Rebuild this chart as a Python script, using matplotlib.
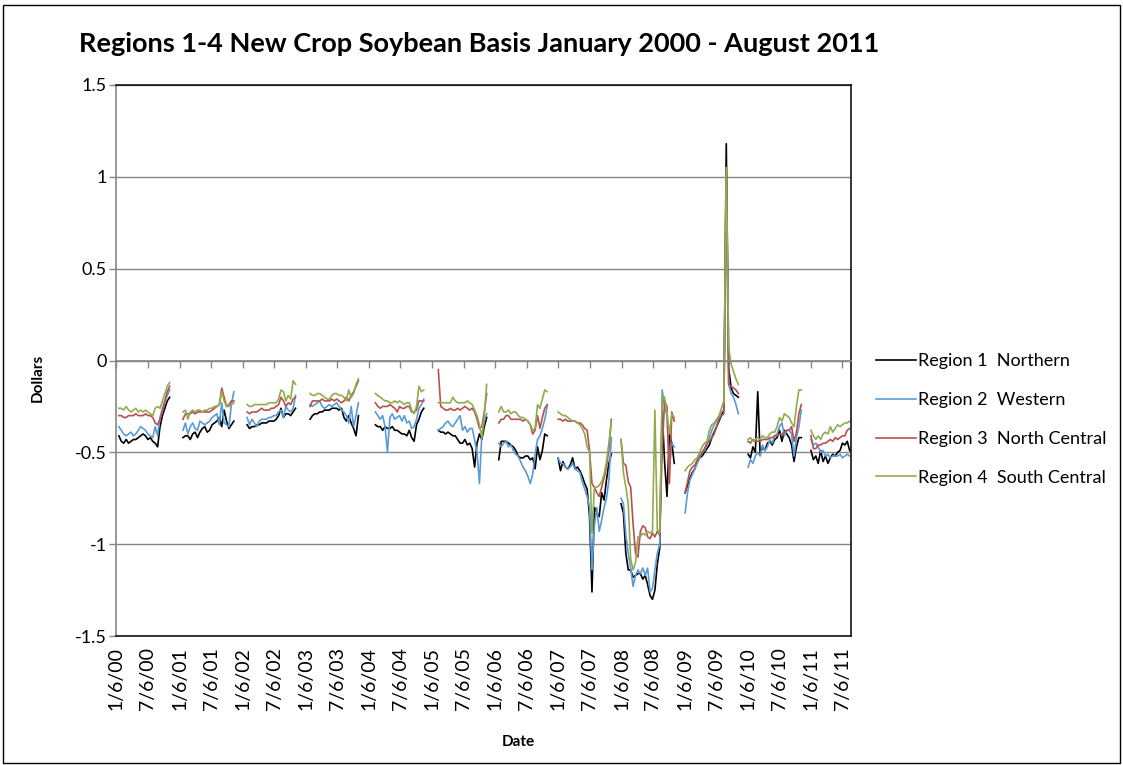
import matplotlib
matplotlib.use('Agg')
import matplotlib.pyplot as plt
from matplotlib.patches import Rectangle
from matplotlib.lines import Line2D
import matplotlib.dates as mdates
import numpy as np
import pandas as pd
from datetime import datetime

plt.rcParams['font.family'] = ['Lato', 'DejaVu Sans']

# first quote date of each new-crop season, quotes every two weeks
seg_starts = ['2000-01-20', '2001-01-25', '2002-01-31', '2003-01-30', '2004-02-12', '2005-02-10',
              '2006-01-26', '2007-01-04', '2008-01-03', '2009-01-08', '2010-01-07', '2011-01-06']

# basis in dollars, one list per season
northern = [
    [-0.41, -0.44, -0.45, -0.43, -0.45, -0.44, -0.43, -0.43, -0.42, -0.41, -0.40, -0.41, -0.43, -0.42, -0.44, -0.45, -0.47, -0.36, -0.30, -0.26, -0.22, -0.20],
    [-0.42, -0.41, -0.41, -0.43, -0.40, -0.39, -0.42, -0.39, -0.37, -0.36, -0.39, -0.38, -0.35, -0.34, -0.33, -0.31, -0.36, -0.27, -0.33, -0.37, -0.35, -0.33],
    [-0.35, -0.37, -0.36, -0.36, -0.35, -0.35, -0.34, -0.34, -0.34, -0.33, -0.33, -0.33, -0.32, -0.30, -0.26, -0.31, -0.29, -0.29, -0.30, -0.28, -0.26],
    [-0.32, -0.30, -0.29, -0.29, -0.28, -0.28, -0.27, -0.27, -0.27, -0.26, -0.26, -0.26, -0.27, -0.26, -0.31, -0.33, -0.30, -0.34, -0.37, -0.41, -0.30],
    [-0.35, -0.36, -0.36, -0.38, -0.36, -0.37, -0.37, -0.36, -0.38, -0.38, -0.39, -0.40, -0.40, -0.41, -0.38, -0.42, -0.44, -0.35, -0.32, -0.28, -0.26],
    [-0.38, -0.39, -0.39, -0.40, -0.39, -0.40, -0.41, -0.41, -0.43, -0.45, -0.45, -0.43, -0.46, -0.45, -0.48, -0.58, -0.45, -0.40, -0.43, -0.36, -0.31],
    [-0.54, -0.44, -0.44, -0.44, -0.45, -0.46, -0.47, -0.49, -0.52, -0.53, -0.53, -0.52, -0.52, -0.54, -0.53, -0.59, -0.47, -0.54, -0.49, -0.40, -0.41],
    [-0.53, -0.60, -0.55, -0.58, -0.59, -0.57, -0.53, -0.59, -0.58, -0.60, -0.63, -0.67, -0.70, -0.85, -1.26, -0.80, -0.83, -0.85, -0.72, -0.76, -0.65, -0.56, -0.51],
    [-0.78, -0.83, -1.05, -1.14, -1.14, -1.18, -1.17, -1.16, -1.16, -1.19, -1.17, -1.22, -1.28, -1.30, -1.25, -1.11, -1.02, -0.27, -0.55, -0.74, -0.40, -0.45, -0.56],
    [-0.72, -0.68, -0.64, -0.61, -0.59, -0.55, -0.53, -0.52, -0.50, -0.48, -0.46, -0.42, -0.39, -0.36, -0.33, -0.30, -0.27, 1.18, -0.04, -0.15, -0.18, -0.19, -0.20],
    [-0.51, -0.53, -0.47, -0.50, -0.17, -0.51, -0.47, -0.49, -0.45, -0.44, -0.46, -0.43, -0.42, -0.38, -0.44, -0.38, -0.40, -0.42, -0.46, -0.55, -0.47, -0.42, -0.42],
    [-0.49, -0.54, -0.52, -0.56, -0.49, -0.55, -0.52, -0.56, -0.53, -0.51, -0.52, -0.50, -0.49, -0.45, -0.46, -0.44, -0.49],
]
western = [
    [-0.36, -0.38, -0.40, -0.41, -0.40, -0.39, -0.41, -0.40, -0.38, -0.36, -0.37, -0.38, -0.40, -0.41, -0.42, -0.36, -0.41, -0.31, -0.26, -0.22, -0.19, -0.16],
    [-0.38, -0.34, -0.40, -0.36, -0.34, -0.37, -0.38, -0.33, -0.34, -0.35, -0.34, -0.33, -0.31, -0.30, -0.29, -0.35, -0.23, -0.34, -0.35, -0.36, -0.24, -0.17],
    [-0.31, -0.35, -0.32, -0.34, -0.36, -0.33, -0.32, -0.32, -0.32, -0.31, -0.31, -0.30, -0.30, -0.28, -0.27, -0.31, -0.25, -0.27, -0.28, -0.26, -0.19],
    [-0.24, -0.25, -0.24, -0.23, -0.22, -0.25, -0.26, -0.25, -0.24, -0.25, -0.24, -0.23, -0.25, -0.27, -0.28, -0.30, -0.34, -0.25, -0.36, -0.30, -0.23],
    [-0.28, -0.30, -0.32, -0.30, -0.36, -0.50, -0.31, -0.29, -0.32, -0.31, -0.30, -0.33, -0.30, -0.34, -0.33, -0.37, -0.36, -0.32, -0.26, -0.24, -0.21],
    [-0.38, -0.37, -0.36, -0.34, -0.33, -0.35, -0.36, -0.34, -0.32, -0.30, -0.38, -0.36, -0.39, -0.37, -0.37, -0.43, -0.50, -0.67, -0.40, -0.33, -0.29],
    [-0.45, -0.47, -0.45, -0.44, -0.47, -0.46, -0.49, -0.51, -0.52, -0.55, -0.58, -0.60, -0.63, -0.67, -0.62, -0.51, -0.43, -0.41, -0.37, -0.32, -0.25],
    [-0.53, -0.56, -0.56, -0.58, -0.59, -0.58, -0.56, -0.59, -0.60, -0.61, -0.66, -0.70, -0.74, -0.80, -1.14, -0.90, -0.80, -0.93, -0.87, -0.80, -0.75, -0.65, -0.42],
    [-0.75, -0.78, -0.95, -1.05, -1.13, -1.23, -1.17, -1.14, -1.16, -1.13, -1.17, -1.13, -1.26, -1.24, -1.14, -1.05, -1.00, -0.16, -0.25, -0.30, -0.58, -0.45, -0.47],
    [-0.83, -0.72, -0.65, -0.62, -0.59, -0.56, -0.53, -0.50, -0.49, -0.46, -0.42, -0.38, -0.35, -0.33, -0.31, -0.28, -0.27, 1.00, -0.13, -0.18, -0.20, -0.24, -0.29],
    [-0.58, -0.54, -0.56, -0.52, -0.50, -0.52, -0.46, -0.49, -0.47, -0.43, -0.45, -0.41, -0.40, -0.36, -0.34, -0.41, -0.38, -0.38, -0.40, -0.52, -0.42, -0.36, -0.27],
    [-0.43, -0.46, -0.45, -0.47, -0.50, -0.49, -0.52, -0.51, -0.53, -0.52, -0.52, -0.52, -0.51, -0.53, -0.52, -0.51, -0.52],
]
north_central = [
    [-0.30, -0.30, -0.31, -0.31, -0.30, -0.30, -0.30, -0.29, -0.30, -0.30, -0.30, -0.29, -0.30, -0.30, -0.31, -0.34, -0.35, -0.32, -0.28, -0.22, -0.17, -0.14],
    [-0.32, -0.29, -0.29, -0.29, -0.28, -0.29, -0.28, -0.28, -0.28, -0.28, -0.28, -0.28, -0.27, -0.26, -0.25, -0.24, -0.15, -0.20, -0.25, -0.24, -0.22, -0.22],
    [-0.28, -0.29, -0.28, -0.28, -0.28, -0.27, -0.26, -0.27, -0.27, -0.27, -0.26, -0.26, -0.25, -0.24, -0.20, -0.22, -0.25, -0.23, -0.24, -0.21, -0.20],
    [-0.25, -0.22, -0.22, -0.22, -0.22, -0.21, -0.22, -0.22, -0.22, -0.21, -0.22, -0.21, -0.22, -0.23, -0.22, -0.20, -0.22, -0.19, -0.17, -0.14, -0.11],
    [-0.23, -0.25, -0.26, -0.25, -0.25, -0.25, -0.24, -0.25, -0.26, -0.28, -0.25, -0.26, -0.26, -0.25, -0.25, -0.28, -0.28, -0.27, -0.22, -0.22, -0.22],
    [-0.05, -0.25, -0.26, -0.27, -0.27, -0.26, -0.27, -0.27, -0.26, -0.27, -0.26, -0.25, -0.26, -0.27, -0.26, -0.28, -0.32, -0.37, -0.36, -0.28, -0.18],
    [-0.34, -0.32, -0.32, -0.30, -0.30, -0.32, -0.32, -0.32, -0.32, -0.32, -0.33, -0.32, -0.33, -0.35, -0.40, -0.38, -0.30, -0.37, -0.31, -0.26, -0.24],
    [-0.32, -0.32, -0.33, -0.32, -0.33, -0.33, -0.33, -0.33, -0.34, -0.34, -0.35, -0.37, -0.38, -0.49, -0.67, -0.69, -0.72, -0.74, -0.69, -0.64, -0.58, -0.48, -0.32],
    [-0.43, -0.56, -0.57, -0.66, -0.69, -0.89, -1.05, -1.07, -0.93, -0.90, -0.91, -0.96, -0.97, -0.94, -0.96, -0.93, -0.95, -0.50, -0.22, -0.25, -0.67, -0.28, -0.33],
    [-0.72, -0.66, -0.60, -0.58, -0.57, -0.54, -0.52, -0.50, -0.48, -0.45, -0.44, -0.42, -0.40, -0.36, -0.32, -0.30, -0.29, 1.05, -0.13, -0.14, -0.15, -0.16, -0.18],
    [-0.44, -0.45, -0.43, -0.44, -0.44, -0.44, -0.43, -0.43, -0.43, -0.42, -0.42, -0.41, -0.41, -0.40, -0.40, -0.39, -0.38, -0.38, -0.36, -0.44, -0.39, -0.29, -0.24],
    [-0.41, -0.48, -0.48, -0.46, -0.46, -0.45, -0.45, -0.44, -0.43, -0.44, -0.42, -0.43, -0.42, -0.41, -0.41, -0.38, -0.37],
]
south_central = [
    [-0.26, -0.26, -0.27, -0.25, -0.27, -0.28, -0.27, -0.26, -0.28, -0.27, -0.28, -0.27, -0.28, -0.29, -0.30, -0.26, -0.25, -0.26, -0.22, -0.18, -0.14, -0.12],
    [-0.28, -0.27, -0.32, -0.28, -0.27, -0.28, -0.27, -0.27, -0.28, -0.27, -0.27, -0.26, -0.26, -0.25, -0.25, -0.24, -0.17, -0.22, -0.25, -0.25, -0.24, -0.23],
    [-0.24, -0.25, -0.25, -0.24, -0.24, -0.24, -0.24, -0.24, -0.24, -0.23, -0.23, -0.23, -0.23, -0.21, -0.16, -0.17, -0.22, -0.19, -0.21, -0.11, -0.13],
    [-0.18, -0.19, -0.19, -0.18, -0.18, -0.19, -0.20, -0.21, -0.21, -0.19, -0.18, -0.18, -0.19, -0.19, -0.20, -0.22, -0.16, -0.20, -0.18, -0.13, -0.10],
    [-0.18, -0.19, -0.20, -0.21, -0.22, -0.22, -0.23, -0.23, -0.22, -0.23, -0.22, -0.23, -0.24, -0.23, -0.23, -0.27, -0.29, -0.25, -0.14, -0.17, -0.16],
    [-0.23, -0.23, -0.23, -0.23, -0.23, -0.23, -0.20, -0.22, -0.23, -0.23, -0.23, -0.23, -0.22, -0.23, -0.24, -0.27, -0.30, -0.35, -0.42, -0.30, -0.13],
    [-0.28, -0.25, -0.28, -0.28, -0.27, -0.29, -0.28, -0.28, -0.30, -0.31, -0.31, -0.32, -0.33, -0.35, -0.38, -0.37, -0.24, -0.26, -0.21, -0.16, -0.17],
    [-0.28, -0.29, -0.30, -0.30, -0.31, -0.32, -0.33, -0.33, -0.34, -0.35, -0.37, -0.40, -0.47, -0.50, -0.94, -0.69, -0.69, -0.68, -0.66, -0.62, -0.55, -0.45, -0.33],
    [-0.43, -0.61, -0.69, -0.78, -1.08, -1.14, -1.10, -0.96, -0.96, -0.94, -0.95, -0.93, -0.94, -0.93, -0.27, -0.92, -0.94, -0.19, -0.20, -0.29, -0.40, -0.29, -0.31],
    [-0.60, -0.58, -0.57, -0.56, -0.54, -0.53, -0.50, -0.47, -0.45, -0.44, -0.38, -0.35, -0.34, -0.32, -0.30, -0.26, -0.22, 1.05, 0.07, -0.02, -0.06, -0.10, -0.13],
    [-0.43, -0.42, -0.44, -0.43, -0.42, -0.43, -0.41, -0.42, -0.42, -0.40, -0.39, -0.39, -0.36, -0.31, -0.33, -0.29, -0.30, -0.31, -0.34, -0.36, -0.25, -0.16, -0.16],
    [-0.38, -0.41, -0.43, -0.41, -0.43, -0.40, -0.39, -0.40, -0.36, -0.39, -0.37, -0.35, -0.36, -0.35, -0.34, -0.34, -0.33],
]

region_names = ['Region 1  Northern', 'Region 2  Western', 'Region 3  North Central', 'Region 4  South Central']
region_colors = ['#000000', '#5b9bd5', '#b9504d', '#8fad4e']
y_ticks = [-1.5, -1, -0.5, 0, 0.5, 1, 1.5]
tick_dates = [datetime(y, m, 6) for y in range(2000, 2012) for m in (1, 7)]


def season_series(segments):
    # join the seasons into one line, with a break between seasons
    xs, ys = [], []
    for start, vals in zip(seg_starts, segments):
        d = pd.date_range(start, periods=len(vals), freq='14D')
        xs.extend(d)
        ys.extend(vals)
        xs.append(d[-1] + pd.Timedelta(days=7))
        ys.append(np.nan)
    return xs, ys


fig = plt.figure(figsize=(11.23, 7.65), dpi=100)
ax = fig.add_axes([0.1037, 0.1686, 0.6540, 0.7203])

grey = '#868686'
for segs, name, col in zip([northern, western, north_central, south_central], region_names, region_colors):
    xs, ys = season_series(segs)
    ax.plot(xs, ys, color=col, lw=1.2, label=name)

ax.set_xlim(datetime(2000, 1, 6), datetime(2011, 8, 25))
ax.set_ylim(-1.5, 1.5)
ax.set_yticks(y_ticks)
ax.set_yticklabels(['%g' % v for v in y_ticks])
ax.yaxis.grid(True, color=grey, lw=1)
ax.set_axisbelow(True)

ax.set_xticks(tick_dates)
ax.set_xticklabels([f'{d.month}/{d.day}/{d:%y}' for d in tick_dates], rotation=90, va='top', ha='center')
ax.tick_params(axis='x', length=0, pad=8, labelsize=14)
ax.tick_params(axis='y', direction='out', length=5, color=grey, width=1, labelsize=13, pad=2)

for s in ['top', 'right', 'bottom']:
    ax.spines[s].set_color('black')
    ax.spines[s].set_linewidth(1.1)
ax.spines['left'].set_color(grey)
ax.spines['left'].set_linewidth(1.2)

# horizontal axis crosses at zero with its own tick marks
axz = ax.twiny()
axz.set_xlim(ax.get_xlim())
axz.set_xticks(mdates.date2num(tick_dates))
axz.xaxis.set_ticks_position('bottom')
axz.spines['bottom'].set_position(('axes', 0.5))
axz.spines['bottom'].set_color(grey)
axz.spines['bottom'].set_linewidth(1.2)
for s in ['top', 'left', 'right']:
    axz.spines[s].set_visible(False)
axz.tick_params(axis='x', direction='out', length=5, color=grey, width=1,
                labelbottom=False, labeltop=False)

handles = [Line2D([], [], color=c, lw=1.2) for c in region_colors]
fig.legend(handles, region_names, loc='upper left', bbox_to_anchor=(876 / 1123, 1 - 353 / 765),
           frameon=False, fontsize=13, handlelength=2.2, handletextpad=0.12,
           labelspacing=1.27, borderpad=0, borderaxespad=0)

fig.text(479 / 1123, 1 - 44 / 765, 'Regions 1-4 New Crop Soybean Basis January 2000 - August 2011',
         ha='center', va='center', fontsize=19.5, fontweight='bold')
fig.text(38 / 1123, 1 - 378 / 765, 'Dollars', rotation=90, ha='center', va='center',
         fontsize=11, fontweight='bold')
fig.text(518 / 1123, 1 - 742 / 765, 'Date', ha='center', va='center', fontsize=11, fontweight='bold')

fig.patches.append(Rectangle((3 / 1123, 2 / 765), 1117 / 1123, 758 / 765, transform=fig.transFigure,
                             fill=False, edgecolor='black', lw=1))

fig.savefig('out.png', dpi=100)
